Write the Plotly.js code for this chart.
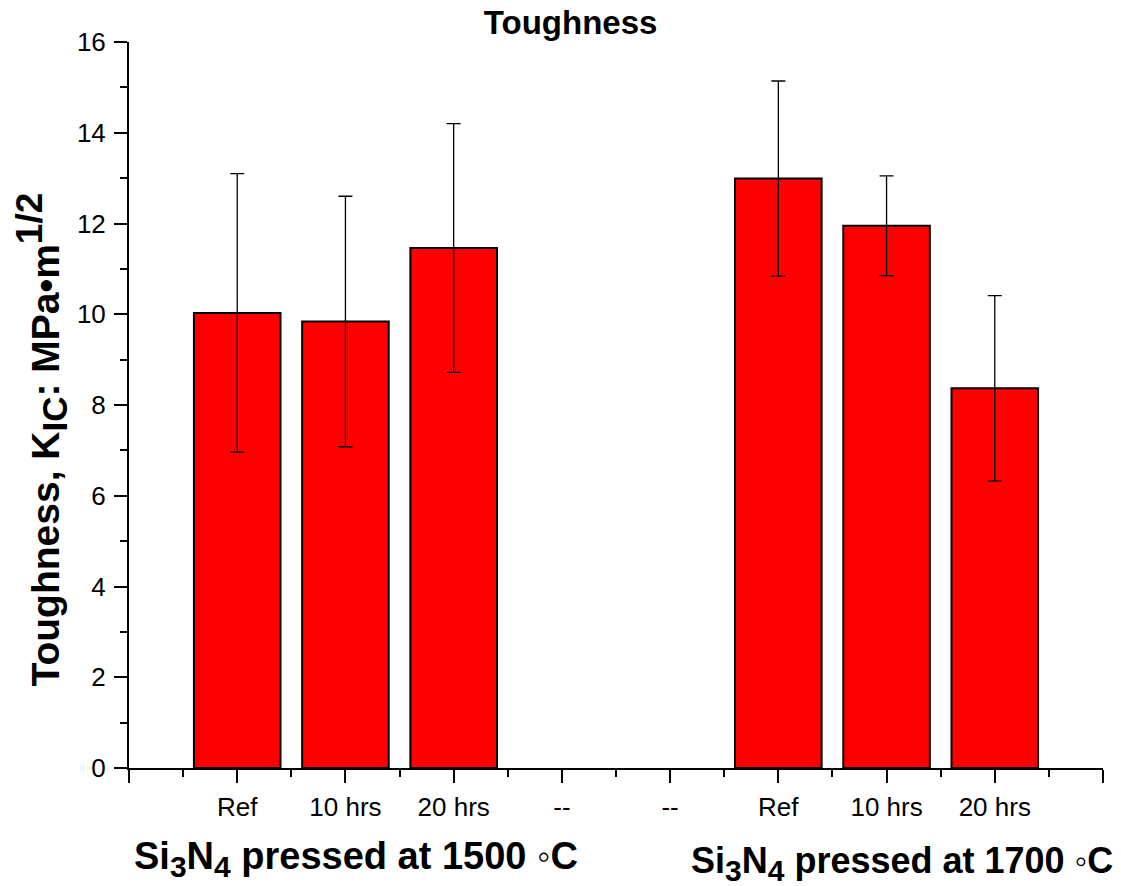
<!DOCTYPE html>
<html>
<head>
<meta charset="utf-8">
<script src="https://cdn.plot.ly/plotly-3.0.1.min.js"></script>
<style>
html,body{margin:0;padding:0;background:#fff;}
#chart{width:1121px;height:886px;}
</style>
</head>
<body>
<div id="chart"></div>
<script>
// Data
const categories = ["Ref", "10 hrs", "20 hrs", "--", "--", "Ref", "10 hrs", "20 hrs"];
const toughness = [10.03, 9.84, 11.46, null, null, 12.99, 11.95, 8.37];
const errors = [3.07, 2.76, 2.74, null, null, 2.15, 1.10, 2.04];
const groupTemps = ["1500", "1700"];
const chartTitle = "Toughness";
const yTicks = [0, 2, 4, 6, 8, 10, 12, 14, 16];

function sz(t, px) { return '<span style="font-size:' + px + 'px">' + t + '</span>'; }
const groupLabels = groupTemps.map(t =>
  "<b>Si<sub>" + sz("3", 30) + "</sub>N<sub>" + sz("4", 30) + "</sub> pressed at " + t + " \u25E6C</b>");
const yTitle = "<b>Toughness, K<sub>" + sz("IC", 35) + "</sub>: MPa\u2022m<sup>" + sz("1/2", 37) + "</sup></b>";

const xpos = categories.map((c, i) => i + 1);
const majorVals = [0].concat(xpos, [categories.length + 1]);
const majorText = [""].concat(categories, [""]);
const minorVals = majorVals.slice(0, -1).map(v => v + 0.5);

const FONT = "Liberation Sans, Arial, sans-serif";

const trace = {
  type: "bar",
  x: xpos,
  y: toughness,
  width: 0.8,
  marker: {color: "#ff0000", line: {color: "#000000", width: 2}},
  error_y: {type: "data", array: errors, visible: true, color: "#000000", thickness: 1.3, width: 7},
  hoverinfo: "y"
};

const layout = {
  width: 1121,
  height: 886,
  margin: {l: 129, r: 18, t: 42, b: 118},
  paper_bgcolor: "#ffffff",
  plot_bgcolor: "#ffffff",
  showlegend: false,
  font: {family: FONT, color: "#000000"},
  title: {
    text: "<b>" + chartTitle + "</b>",
    font: {family: FONT, size: 33, color: "#000000"},
    xref: "container", x: 0.509, xanchor: "center",
    yref: "container", y: 0.975, yanchor: "middle"
  },
  xaxis: {
    range: [0, categories.length + 1],
    tickmode: "array",
    tickvals: majorVals,
    ticktext: majorText,
    ticks: "outside",
    ticklen: 13,
    tickwidth: 2,
    tickcolor: "#000000",
    tickfont: {family: FONT, size: 26, color: "#000000"},
    ticklabelstandoff: 2,
    minor: {tickmode: "array", tickvals: minorVals, ticks: "outside", ticklen: 7, tickwidth: 2, tickcolor: "#000000"},
    showline: true,
    linecolor: "#000000",
    linewidth: 2,
    showgrid: false,
    zeroline: false,
    fixedrange: true
  },
  yaxis: {
    range: [0, 16],
    tickmode: "array",
    tickvals: yTicks,
    ticks: "outside",
    ticklen: 13,
    tickwidth: 2,
    tickcolor: "#000000",
    tickfont: {family: FONT, size: 26, color: "#000000"},
    ticklabelstandoff: 3,
    minor: {dtick: 1, ticks: "outside", ticklen: 7, tickwidth: 2, tickcolor: "#000000"},
    showline: true,
    linecolor: "#000000",
    linewidth: 2,
    showgrid: false,
    zeroline: false,
    fixedrange: true
  },
  annotations: [
    {text: yTitle, textangle: -90,
     xref: "paper", x: -0.09, yref: "paper", y: 0.453,
     xanchor: "center", yanchor: "middle", showarrow: false,
     font: {family: FONT, size: 39, color: "#000000"}},
    {text: groupLabels[0], xref: "x", x: 2.1, yref: "paper", y: -0.125,
     xanchor: "center", yanchor: "middle", showarrow: false,
     font: {family: FONT, size: 38, color: "#000000"}},
    {text: groupLabels[1], xref: "x", x: 7.14, yref: "paper", y: -0.131,
     xanchor: "center", yanchor: "middle", showarrow: false,
     font: {family: FONT, size: 36, color: "#000000"}}
  ]
};

Plotly.newPlot("chart", [trace], layout, {displayModeBar: false, staticPlot: true});
</script>
</body>
</html>
